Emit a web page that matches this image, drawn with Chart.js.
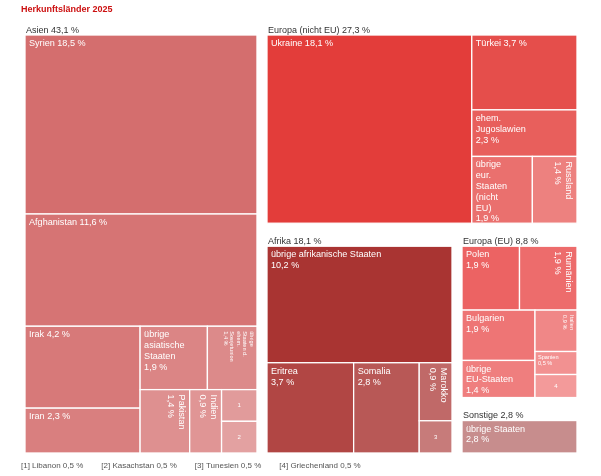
<!DOCTYPE html>
<html lang="de">
<head>
<meta charset="UTF-8">
<meta name="viewport" content="width=device-width, initial-scale=1.0">
<title>Herkunftsländer 2025</title>
<script src="https://cdn.jsdelivr.net/npm/chart.js"></script>
<style>
    html, body { margin: 0; padding: 0; background: #fff; }
    .container { width: 601px; height: 476px; }
</style>
</head>
<body>
<div class="container"><canvas id="myChart"></canvas></div>
<script>
// Obergruppen (Anteil in %)
const gruppen = ['Asien', 'Europa (nicht EU)', 'Afrika', 'Europa (EU)', 'Sonstige'];
const gruppenAnteile = [43.1, 27.3, 18.1, 8.8, 2.8];

// Länder je Gruppe, "\n" = Umbruch im Label
const asienLaender = ['Syrien', 'Afghanistan', 'Irak', 'Iran', 'übrige\nasiatische\nStaaten',
    'übrige\nStaaten d.\nehem.\nSowjetunion', 'Pakistan', 'Indien', 'Libanon', 'Kasachstan'];
const asienAnteile = [18.5, 11.6, 4.2, 2.3, 1.9, 1.4, 1.4, 0.9, 0.5, 0.5];

const europaLaender = ['Ukraine', 'Türkei', 'ehem.\nJugoslawien', 'übrige\neur.\nStaaten\n(nicht\nEU)', 'Russland'];
const europaAnteile = [18.1, 3.7, 2.3, 1.9, 1.4];

const afrikaLaender = ['übrige afrikanische Staaten', 'Eritrea', 'Somalia', 'Marokko', 'Tunesien'];
const afrikaAnteile = [10.2, 3.7, 2.8, 0.9, 0.5];

const euLaender = ['Polen', 'Rumänien', 'Bulgarien', 'übrige\nEU-Staaten', 'Italien', 'Spanien', 'Griechenland'];
const euAnteile = [1.9, 1.9, 1.9, 1.4, 0.9, 0.5, 0.5];

const sonstigeLaender = ['übrige Staaten'];
const sonstigeAnteile = [2.8];

// zu kleine Kacheln -> Nummer + Fußnote
const fussnoten = ['Libanon', 'Kasachstan', 'Tunesien', 'Griechenland'];

const laender = [asienLaender, europaLaender, afrikaLaender, euLaender, sonstigeLaender];
const anteile = [asienAnteile, europaAnteile, afrikaAnteile, euAnteile, sonstigeAnteile];

// Darstellung
const farben = ['#D46E6E', '#E33D3A', '#A93432', '#EC6363', '#C78D8D'];
const wertInZeile = [true, true, false, false, false];
const hochkant = ['Pakistan', 'Indien', 'übrige\nStaaten d.\nehem.\nSowjetunion', 'Russland', 'Marokko', 'Rumänien', 'Italien'];
const kleineSchrift = ['übrige\nStaaten d.\nehem.\nSowjetunion', 'Italien', 'Spanien'];
const schrift = '"Liberation Sans", Arial, sans-serif';
const kopf = 13;     // Platz für Gruppentitel
const abstand = 10;  // Abstand zwischen Gruppen

function fmt(v) {
    return v.toFixed(1).replace('.', ',') + ' %';
}

function aspect(a, b) {
    return Math.max(a / b, b / a);
}

function aufhellen(hex, t) {
    const n = parseInt(hex.slice(1), 16);
    const c = [(n >> 16) & 255, (n >> 8) & 255, n & 255].map(function (k) {
        return Math.round(k + (255 - k) * t);
    });
    return 'rgb(' + c.join(',') + ')';
}

// squarified treemap; ein Wert kommt in die Reihe, wenn er dort
// nicht schlechter aussieht als allein im Restfeld
function squarify(values, rect) {
    const out = [];
    let r = { x: rect.x, y: rect.y, w: rect.w, h: rect.h };
    let rest = values.reduce(function (s, v) { return s + v; }, 0);
    let i = 0;
    while (i < values.length) {
        let sum = values[i];
        let j = i + 1;
        const vertical = r.w >= r.h;
        const lang = vertical ? r.w : r.h;
        const kurz = vertical ? r.h : r.w;
        while (j < values.length) {
            const v = values[j];
            const t = (sum + v) / rest * lang;
            const inRow = aspect(t, v / (sum + v) * kurz);
            const t0 = sum / rest * lang;
            const lw = vertical ? r.w - t0 : r.w;
            const lh = vertical ? r.h : r.h - t0;
            const rest2 = rest - sum;
            const alone = lw >= lh ? aspect(v / rest2 * lw, lh) : aspect(v / rest2 * lh, lw);
            if (inRow > alone + 1e-6) break;
            sum += v;
            j++;
        }
        const t = sum / rest * lang;
        let pos = vertical ? r.y : r.x;
        for (let k = i; k < j; k++) {
            const len = values[k] / sum * kurz;
            if (vertical) out.push({ x: r.x, y: pos, w: t, h: len });
            else out.push({ x: pos, y: r.y, w: len, h: t });
            pos += len;
        }
        if (vertical) r = { x: r.x + t, y: r.y, w: r.w - t, h: r.h };
        else r = { x: r.x, y: r.y + t, w: r.w, h: r.h - t };
        rest -= sum;
        i = j;
    }
    return out;
}

function zeichneLabel(ctx, name, wert, zelle, inZeile) {
    const nr = fussnoten.indexOf(name);
    ctx.save();
    ctx.beginPath();
    ctx.rect(zelle.x, zelle.y, zelle.w, zelle.h);
    ctx.clip();
    ctx.fillStyle = '#fff';
    if (nr >= 0) {
        ctx.font = '6px ' + schrift;
        ctx.textAlign = 'center';
        ctx.textBaseline = 'middle';
        ctx.fillText(String(nr + 1), zelle.x + zelle.w / 2, zelle.y + zelle.h / 2);
        ctx.restore();
        return;
    }
    const klein = kleineSchrift.indexOf(name) >= 0;
    const quer = hochkant.indexOf(name) >= 0;
    let zeilen = name.split('\n');
    if (inZeile && zeilen.length === 1 && !quer) zeilen = [name + ' ' + fmt(wert)];
    else zeilen.push(fmt(wert));
    const fs = klein ? 5.6 : 9.1;
    const lh = klein ? 6.4 : 10.8;
    const pad = klein ? 3 : 4;
    ctx.font = fs + 'px ' + schrift;
    ctx.textAlign = 'left';
    ctx.textBaseline = 'top';
    if (quer) {
        ctx.translate(zelle.x + zelle.w - pad, zelle.y + pad + (klein ? 2 : 1));
        ctx.rotate(Math.PI / 2);
        zeilen.forEach(function (z, k) { ctx.fillText(z, 0, k * lh); });
    } else {
        zeilen.forEach(function (z, k) { ctx.fillText(z, zelle.x + pad, zelle.y + pad + k * lh); });
    }
    ctx.restore();
}

const treemapPlugin = {
    id: 'treemap',
    afterDraw: function (chart) {
        const ctx = chart.ctx;
        const xs = chart.scales.x, ys = chart.scales.y;
        const feld = {
            x: xs.getPixelForValue(0),
            y: ys.getPixelForValue(100),
            w: xs.getPixelForValue(100) - xs.getPixelForValue(0),
            h: ys.getPixelForValue(0) - ys.getPixelForValue(100)
        };
        const boxen = squarify(gruppenAnteile, feld);

        boxen.forEach(function (b, g) {
            const inhalt = { x: b.x, y: b.y + kopf, w: b.w - abstand, h: b.h - kopf - abstand };
            const werte = anteile[g];
            const zellen = squarify(werte, inhalt);
            const n = werte.length;

            zellen.forEach(function (z, k) {
                ctx.fillStyle = aufhellen(farben[g], n > 1 ? 0.35 * k / (n - 1) : 0);
                ctx.fillRect(z.x, z.y, z.w, z.h);
                ctx.strokeStyle = '#fff';
                ctx.lineWidth = 1.3;
                ctx.strokeRect(z.x, z.y, z.w, z.h);
            });
            zellen.forEach(function (z, k) {
                zeichneLabel(ctx, laender[g][k], werte[k], z, wertInZeile[g]);
            });

            ctx.save();
            ctx.fillStyle = '#333';
            ctx.font = '9px ' + schrift;
            ctx.textAlign = 'left';
            ctx.textBaseline = 'alphabetic';
            ctx.fillText(gruppen[g] + ' ' + fmt(gruppenAnteile[g]), inhalt.x + 1, inhalt.y - 2.5);
            ctx.restore();
        });

        // Titel
        ctx.save();
        ctx.fillStyle = '#CC1010';
        ctx.font = 'bold 9px ' + schrift;
        ctx.textAlign = 'left';
        ctx.textBaseline = 'middle';
        ctx.fillText('Herkunftsländer 2025', 21, 10);

        // Fußnoten
        ctx.fillStyle = '#555';
        ctx.font = '8px ' + schrift;
        let fx = 21;
        fussnoten.forEach(function (name, k) {
            const wert = anteile.flatMap(function (a, g) {
                return laender[g].indexOf(name) >= 0 ? [a[laender[g].indexOf(name)]] : [];
            })[0];
            const txt = '[' + (k + 1) + '] ' + name + ' ' + fmt(wert);
            ctx.fillText(txt, fx, 466);
            fx += ctx.measureText(txt).width + 18;
        });
        ctx.restore();
    }
};

const ctx = document.getElementById('myChart');
const myChart = new Chart(ctx, {
    type: 'scatter',
    data: { datasets: [{ data: [] }] },
    options: {
        responsive: true,
        maintainAspectRatio: false,
        animation: false,
        layout: { padding: { left: 25, right: 14, top: 22, bottom: 13 } },
        scales: {
            x: { type: 'linear', min: 0, max: 100, display: false },
            y: { type: 'linear', min: 0, max: 100, display: false }
        },
        plugins: {
            legend: { display: false },
            tooltip: { enabled: false }
        }
    },
    plugins: [treemapPlugin]
});
</script>
</body>
</html>
